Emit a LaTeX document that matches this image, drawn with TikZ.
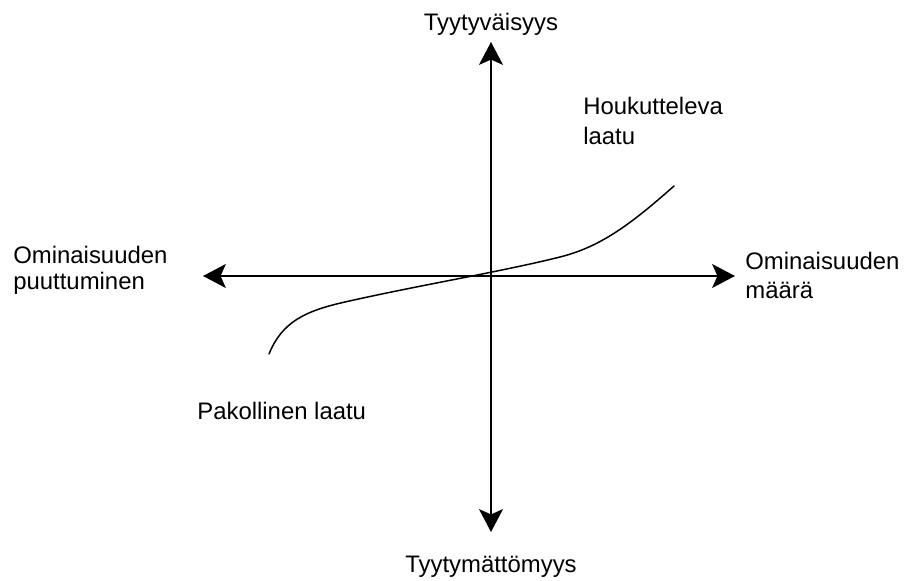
\documentclass[tikz,border=0pt]{standalone}
\usepackage{fontspec}
\setmainfont{Liberation Sans}
\usepackage{tikz}
\usetikzlibrary{arrows.meta}
\def\xO{491}
\def\yO{276}
\def\xL{203}
\def\xR{735}
\def\yT{42}
\def\yB{532}

\begin{document}
\begin{tikzpicture}[x=0.02cm, y=-0.02cm, line cap=butt,
                    font=\fontsize{13.6}{16.5}\selectfont,
                    axis/.style={line width=1.15pt,
                      -{Stealth[length=13pt, width=13.6pt, inset=3pt]}},
                    lbl/.style={inner sep=0pt, align=left}]
\useasboundingbox (0,0) rectangle (904,581);

% =================== axes ===================
\coordinate (O) at (\xO,\yO);
\coordinate (left) at (\xL,\yO);
\coordinate (right) at (\xR,\yO);
\coordinate (top) at (\xO,\yT);
\coordinate (bottom) at (\xO,\yB);
\draw[axis] (O) -- (left);
\draw[axis] (O) -- (right);
\draw[axis] (O) -- (top);
\draw[axis] (O) -- (bottom);

% =================== quality curve ===================
\coordinate (cstart) at (269,354);
\coordinate (cend) at (674,186);
\draw[line width=0.85pt, line cap=round]
  (cstart) .. controls (282,322) and (305,311) .. (345,302)
           .. controls (420,285) and (500,272) .. (560,257)
           .. controls (600,247) and (630,225) .. (cend);

% =================== labels ===================
% (base of a two-line node = baseline of its last line)
\node[lbl, anchor=base] (satisfied) at (\xO,31) {Tyytyväisyys};
\node[lbl, anchor=base] (dissatisfied) at (\xO,572) {Tyytymättömyys};
\node[lbl, anchor=base west] (absent) at (13,290)
  {Ominaisuuden\\[-1.3pt]puuttuminen};
\node[lbl, anchor=base west] (amount) at (745,298)
  {Ominaisuuden\\[-0.3pt]määrä};
\node[lbl, anchor=base west] (attractive) at (583,145)
  {Houkutteleva\\[1pt]laatu};
\node[lbl, anchor=base west] (mustbe) at (197,419) {Pakollinen laatu};

\end{tikzpicture}
\end{document}
